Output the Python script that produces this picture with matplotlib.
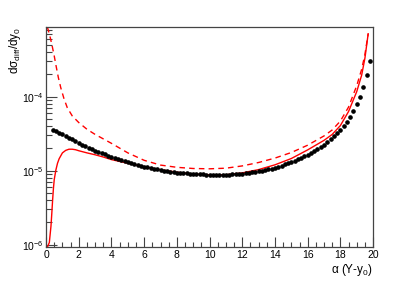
import matplotlib
matplotlib.use('Agg')
import matplotlib.pyplot as plt
from matplotlib.ticker import MultipleLocator, LogLocator, LogFormatterMathtext, NullFormatter

plt.rcParams['font.family'] = ['Liberation Sans', 'DejaVu Sans']
plt.rcParams['mathtext.fontset'] = 'custom'
plt.rcParams['mathtext.rm'] = 'Liberation Sans'
plt.rcParams['mathtext.it'] = 'Liberation Sans'
plt.rcParams['mathtext.bf'] = 'Liberation Sans:bold'

# black points, alpha(Y-y0) from 0.4 to 19.8 in steps of 0.2
pts_x = [round(0.4 + 0.2 * i, 1) for i in range(98)]
pts_y = [3.55e-5, 3.39e-5, 3.24e-5, 3.09e-5, 2.93e-5, 2.78e-5, 2.64e-5, 2.50e-5,
         2.37e-5, 2.25e-5, 2.15e-5, 2.05e-5, 1.95e-5, 1.86e-5, 1.79e-5, 1.73e-5,
         1.66e-5, 1.60e-5, 1.55e-5, 1.50e-5, 1.45e-5, 1.40e-5, 1.36e-5, 1.32e-5,
         1.28e-5, 1.24e-5, 1.21e-5, 1.17e-5, 1.135e-5, 1.11e-5, 1.086e-5, 1.064e-5,
         1.042e-5, 1.023e-5, 1.005e-5, 9.89e-6, 9.73e-6, 9.57e-6, 9.44e-6, 9.33e-6,
         9.25e-6, 9.16e-6, 9.08e-6, 9.02e-6, 8.97e-6, 8.93e-6, 8.89e-6, 8.85e-6,
         8.81e-6, 8.79e-6, 8.79e-6, 8.79e-6, 8.79e-6, 8.81e-6, 8.85e-6, 8.91e-6,
         8.97e-6, 9.04e-6, 9.12e-6, 9.23e-6, 9.35e-6, 9.48e-6, 9.62e-6, 9.77e-6,
         9.98e-6, 1.021e-5, 1.045e-5, 1.069e-5, 1.096e-5, 1.132e-5, 1.172e-5, 1.213e-5,
         1.256e-5, 1.303e-5, 1.361e-5, 1.426e-5, 1.493e-5, 1.563e-5, 1.641e-5, 1.738e-5,
         1.845e-5, 1.963e-5, 2.094e-5, 2.239e-5, 2.427e-5, 2.642e-5, 2.897e-5, 3.199e-5,
         3.548e-5, 4.009e-5, 4.571e-5, 5.370e-5, 6.457e-5, 7.943e-5, 1.0e-4, 1.365e-4,
         1.950e-4, 3.020e-4]

# red solid curve
solid_x = [0.05, 0.2, 0.3, 0.35, 0.4, 0.45, 0.5, 0.6, 0.7, 0.8, 1.0, 1.2, 1.4, 1.6,
           1.8, 2.0, 2.5, 3.0, 3.5, 4.0, 5.0, 6.0, 7.0, 8.0, 9.0, 10.0, 11.0, 12.0,
           13.0, 14.0, 15.0, 16.0, 17.0, 17.5, 18.0, 18.5, 19.0, 19.3, 19.5, 19.7]
solid_y = [8.91e-7, 1.07e-6, 1.78e-6, 2.63e-6, 3.98e-6, 5.75e-6, 7.59e-6, 1.02e-5,
           1.26e-5, 1.45e-5, 1.74e-5, 1.88e-5, 1.95e-5, 1.95e-5, 1.92e-5, 1.86e-5,
           1.74e-5, 1.64e-5, 1.53e-5, 1.41e-5, 1.26e-5, 1.13e-5, 1.03e-5, 9.55e-6,
           9.02e-6, 8.81e-6, 8.81e-6, 9.33e-6, 1.035e-5, 1.20e-5, 1.46e-5, 1.91e-5,
           2.57e-5, 3.09e-5, 4.07e-5, 6.31e-5, 1.17e-4, 1.95e-4, 3.31e-4, 7.08e-4]

# red dashed curve
dash_x = [0.08, 0.2, 0.35, 0.5, 0.6, 0.75, 0.9, 1.1, 1.3, 1.6, 2.0, 2.5, 3.0, 3.5,
          4.0, 5.0, 6.0, 7.0, 8.0, 9.0, 10.0, 11.0, 12.0, 13.0, 14.0, 15.0, 16.0,
          17.0, 17.5, 18.0, 18.5, 19.0, 19.3, 19.5, 19.7]
dash_y = [8.71e-4, 7.08e-4, 5.13e-4, 3.55e-4, 2.69e-4, 1.82e-4, 1.32e-4, 9.33e-5,
          7.08e-5, 5.50e-5, 4.47e-5, 3.63e-5, 3.09e-5, 2.69e-5, 2.34e-5, 1.74e-5,
          1.38e-5, 1.19e-5, 1.11e-5, 1.07e-5, 1.06e-5, 1.08e-5, 1.16e-5, 1.29e-5,
          1.48e-5, 1.76e-5, 2.21e-5, 2.95e-5, 3.55e-5, 4.68e-5, 7.24e-5, 1.41e-4,
          2.34e-4, 3.72e-4, 7.08e-4]

fig = plt.figure(figsize=(4.15, 2.81), dpi=100)
ax = fig.add_axes([0.111, 0.121, 0.788, 0.783])

ax.plot(dash_x, dash_y, color='#ff0000', lw=1.0, dashes=(4, 3))
ax.plot(solid_x, solid_y, color='#ff0000', lw=1.0)
ax.plot(pts_x, pts_y, 'o', color='black', ms=2.3, mec='black')

ax.set_yscale('log')
ax.set_xlim(0, 20)
ax.set_ylim(9.3e-7, 8.75e-4)

ax.xaxis.set_major_locator(MultipleLocator(2))
ax.xaxis.set_minor_locator(MultipleLocator(0.5))
ax.yaxis.set_major_locator(LogLocator(base=10, numticks=10))
ax.yaxis.set_minor_locator(LogLocator(base=10, subs=range(2, 10), numticks=20))
ax.yaxis.set_major_formatter(LogFormatterMathtext())
ax.yaxis.set_minor_formatter(NullFormatter())

ax.tick_params(which='both', direction='in', top=False, right=False, labelsize=7.5,
               color='#444444', width=0.8, pad=2)
ax.tick_params(axis='x', which='major', length=7)
ax.tick_params(axis='x', which='minor', length=3.5)
ax.tick_params(axis='y', which='major', length=8)
ax.tick_params(axis='y', which='minor', length=4)
for sp in ax.spines.values():
    sp.set_color('#444444')
    sp.set_linewidth(0.9)

fig.text(0.899, 0.04, r'$\alpha$ (Y-y$_0$)', ha='right', va='center', fontsize=8.5)
fig.text(0.035, 0.904, r'd$\sigma_{\mathrm{diff}}$/dy$_0$', ha='center', va='top',
         rotation=90, fontsize=8.5)

plt.savefig('out.png', dpi=100)
